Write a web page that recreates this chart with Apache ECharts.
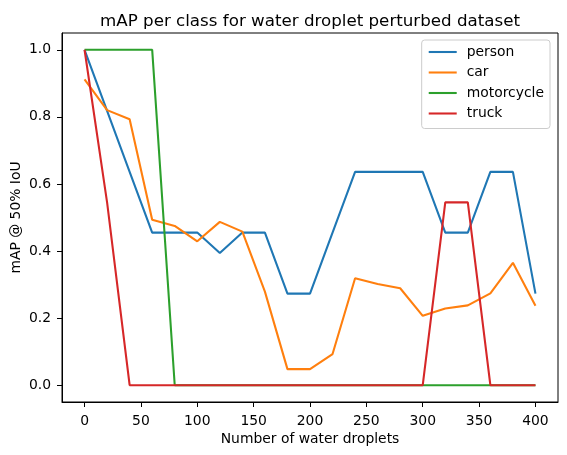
<!DOCTYPE html>
<html>
<head>
<meta charset="utf-8">
<script src="https://cdn.jsdelivr.net/npm/echarts@6/dist/echarts.min.js"></script>
<style>
html,body{margin:0;padding:0;background:#fff;}
#chart{width:567px;height:455px;}
</style>
</head>
<body>
<div id="chart"></div>
<script>
var droplets = [0,20,40,60,80,100,120,140,160,180,200,220,240,260,280,300,320,340,360,380,400];
var person = [1.0,0.818,0.636,0.455,0.455,0.455,0.394,0.455,0.455,0.273,0.273,0.455,0.636,0.636,0.636,0.636,0.455,0.455,0.636,0.636,0.273];
var car = [0.912,0.82,0.793,0.493,0.475,0.429,0.487,0.458,0.279,0.048,0.048,0.093,0.319,0.302,0.289,0.207,0.229,0.238,0.274,0.365,0.237];
var motorcycle = [1,1,1,1,0,0,0,0,0,0,0,0,0,0,0,0,0,0,0,0,0];
var truck = [1,0.545,0,0,0,0,0,0,0,0,0,0,0,0,0,0,0.545,0.545,0,0,0];
var xTicks = [0,50,100,150,200,250,300,350,400];
var yTicks = [0.0,0.2,0.4,0.6,0.8,1.0];
var seriesNames = ['person','car','motorcycle','truck'];
var colors = ['#1f77b4','#ff7f0e','#2ca02c','#d62728'];

function pairs(vals){ return droplets.map(function(x,i){ return [x, vals[i]]; }); }
var allVals = [person, car, motorcycle, truck];
var FONT = 'DejaVu Sans';
var FS = 13.9;

var chart = echarts.init(document.getElementById('chart'), null, {renderer:'canvas'});
chart.setOption({
  animation:false,
  color: colors,
  title:{
    text:'mAP per class for water droplet perturbed dataset',
    left:95, top:8,
    textStyle:{fontFamily:FONT, fontSize:16.7, fontWeight:'normal', color:'#000'}
  },
  legend:{
    orient:'vertical', right:17, top:40,
    data: seriesNames,
    itemWidth:28, itemHeight:14, itemGap:6.5,
    padding:[5,6,8,6],
    itemStyle:{opacity:0},
    lineStyle:{width:2.08},
    borderColor:'#cccccc', borderWidth:1, borderRadius:3,
    backgroundColor:'rgba(255,255,255,0.8)',
    textStyle:{fontFamily:FONT, fontSize:FS, color:'#000', padding:[0,0,0,5]}
  },
  grid:{left:62, right:9, top:33, bottom:53, outerBoundsMode:'none', containLabel:false,
    show:true, borderColor:'#000', borderWidth:1, backgroundColor:'transparent'},
  xAxis:{
    type:'value', min:-20, max:420,
    name:'Number of water droplets', nameLocation:'middle', nameGap:30, nameMoveOverlap:false,
    nameTextStyle:{fontFamily:FONT, fontSize:FS, color:'#000'},
    axisLine:{show:true, onZero:false, lineStyle:{color:'#000', width:1}},
    axisTick:{show:true, inside:false, length:5, lineStyle:{color:'#000'}, customValues:xTicks},
    axisLabel:{fontFamily:FONT, fontSize:FS, color:'#000', margin:12, customValues:xTicks},
    splitLine:{show:false}
  },
  yAxis:{
    type:'value', min:-0.05, max:1.05,
    name:'mAP @ 50% IoU', nameLocation:'middle', nameGap:39, nameMoveOverlap:false,
    nameTextStyle:{fontFamily:FONT, fontSize:FS, color:'#000'},
    axisLine:{show:true, onZero:false, lineStyle:{color:'#000', width:1}},
    axisTick:{show:true, inside:false, length:5, lineStyle:{color:'#000'}, customValues:yTicks},
    axisLabel:{fontFamily:FONT, fontSize:FS, color:'#000', margin:11, customValues:yTicks,
      formatter:function(v){ return v.toFixed(1); }},
    splitLine:{show:false}
  },
  series: seriesNames.map(function(n,i){
    return {
      name:n, type:'line', data:pairs(allVals[i]),
      symbol:'none', lineStyle:{width:2.08, color:colors[i]},
      itemStyle:{color:colors[i]}, z:2+i
    };
  })
});
</script>
</body>
</html>
